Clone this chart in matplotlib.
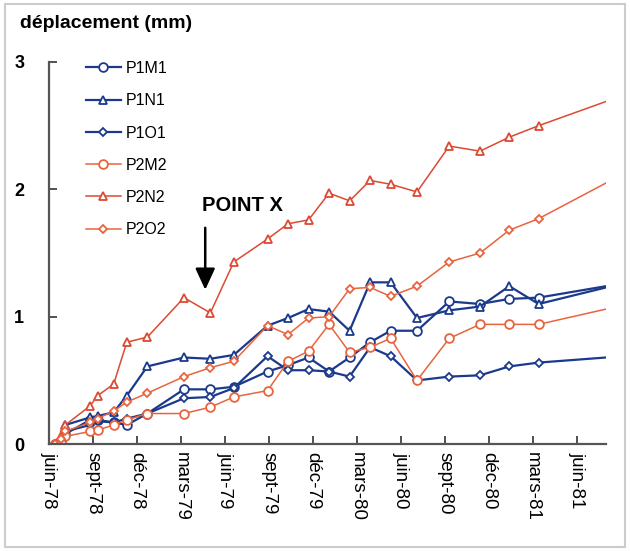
import matplotlib
matplotlib.use("Agg")
import matplotlib.pyplot as plt
from matplotlib.patches import Rectangle

plt.rcParams['font.family'] = ['Liberation Sans', 'DejaVu Sans']

# ---- data: months since juin-78, displacement in mm ----
months = [0.4, 0.8, 1.1, 2.8, 3.3, 4.4, 5.3, 6.7, 9.2, 11.0, 12.6, 14.9,
          16.3, 17.7, 19.1, 20.5, 21.9, 23.3, 25.1, 27.3, 29.4, 31.4, 33.4, 38.0]

p1m1 = [0.0, 0.03, 0.08, 0.19, 0.19, 0.17, 0.15, 0.24, 0.43, 0.43, 0.45, 0.57,
        0.62, 0.68, 0.57, 0.68, 0.80, 0.89, 0.89, 1.12, 1.10, 1.14, 1.15, 1.24]
p1n1 = [0.0, 0.05, 0.15, 0.21, 0.22, 0.25, 0.38, 0.61, 0.68, 0.67, 0.70, 0.93,
        0.99, 1.06, 1.04, 0.89, 1.27, 1.27, 0.99, 1.05, 1.08, 1.24, 1.10, 1.23]
p1o1 = [0.0, 0.03, 0.10, 0.15, 0.18, 0.17, 0.20, 0.24, 0.36, 0.37, 0.44, 0.69,
        0.58, 0.58, 0.57, 0.53, 0.76, 0.69, 0.50, 0.53, 0.54, 0.61, 0.64, 0.68]
p2m2 = [0.0, 0.02, 0.06, 0.10, 0.11, 0.15, 0.19, 0.24, 0.24, 0.29, 0.37, 0.42,
        0.65, 0.73, 0.94, 0.72, 0.76, 0.83, 0.50, 0.83, 0.94, 0.94, 0.94, 1.06]
p2n2 = [0.0, 0.06, 0.15, 0.30, 0.38, 0.47, 0.80, 0.84, 1.15, 1.03, 1.43, 1.61,
        1.73, 1.76, 1.97, 1.91, 2.07, 2.04, 1.98, 2.34, 2.30, 2.41, 2.50, 2.69]
p2o2 = [0.0, 0.04, 0.10, 0.17, 0.20, 0.26, 0.33, 0.40, 0.53, 0.60, 0.65, 0.93,
        0.86, 0.99, 1.00, 1.22, 1.23, 1.16, 1.24, 1.43, 1.50, 1.68, 1.77, 2.05]

labels = ["P1M1", "P1N1", "P1O1", "P2M2", "P2N2", "P2O2"]
tick_months = list(range(0, 37, 3))
tick_labels = ["juin-78", "sept-78", "déc-78", "mars-79", "juin-79", "sept-79",
               "déc-79", "mars-80", "juin-80", "sept-80", "déc-80", "mars-81",
               "juin-81"]

# ---- styles ----
blue = "#1c3a8c"
orange = "#e8643f"
red = "#dc4a33"
series = [
    (p1m1, blue, "o", 6.3, 1.6),
    (p1n1, blue, "^", 6.3, 1.6),
    (p1o1, blue, "D", 4.3, 1.6),
    (p2m2, orange, "o", 6.3, 1.1),
    (p2n2, red, "^", 6.3, 1.1),
    (p2o2, orange, "D", 4.3, 1.1),
]

fig = plt.figure(figsize=(6.3, 5.51), dpi=100)
ax = fig.add_axes([0.078, 0.194, 0.884, 0.6935])

n = len(months)
for (vals, col, mk, ms, lw), lab in zip(series, labels):
    ax.plot(months, vals, color=col, marker=mk, markersize=ms, linewidth=lw,
            markerfacecolor="white", markeredgecolor=col, markeredgewidth=1.3,
            markevery=list(range(n - 1)), label=lab)

ax.set_xlim(0, 38.0)
ax.set_ylim(0, 3)
ax.set_xticks(tick_months)
ax.set_xticklabels(tick_labels, rotation=270, fontsize=13.5)
ax.set_yticks([0, 1, 2, 3])
ax.set_yticklabels(["0", "1", "2", "3"], fontsize=13, fontweight="bold")
ax.tick_params(direction="in", length=6, width=1.2, color="#333333")
ax.tick_params(axis="y", pad=18)
ax.tick_params(axis="x", pad=6)
for s in ["top", "right"]:
    ax.spines[s].set_visible(False)
for s in ["left", "bottom"]:
    ax.spines[s].set_color("#555555")
    ax.spines[s].set_linewidth(1.6)

leg = ax.legend(loc="upper left", bbox_to_anchor=(0.04, 1.04), frameon=False,
                fontsize=11.5, handlelength=2.2, labelspacing=1.08,
                handletextpad=0.3)

# ---- annotation ----
ax.annotate("", xy=(10.65, 1.19), xytext=(10.65, 1.72),
            arrowprops=dict(arrowstyle="-|>,head_length=1.3,head_width=0.6",
                            color="black", lw=1.8))
ax.text(10.45, 1.87, "POINT X", fontsize=14.5, fontweight="bold",
        va="center", ha="left")

fig.text(0.032, 0.958, "déplacement (mm)", fontsize=14, fontweight="bold",
         va="center", ha="left")

# light frame round the picture
fig.patches.append(Rectangle((0.008, 0.008), 0.984, 0.984, transform=fig.transFigure,
                             fill=False, edgecolor="#cccccc", linewidth=1.5))

fig.savefig("out.png", dpi=100, facecolor="white")
